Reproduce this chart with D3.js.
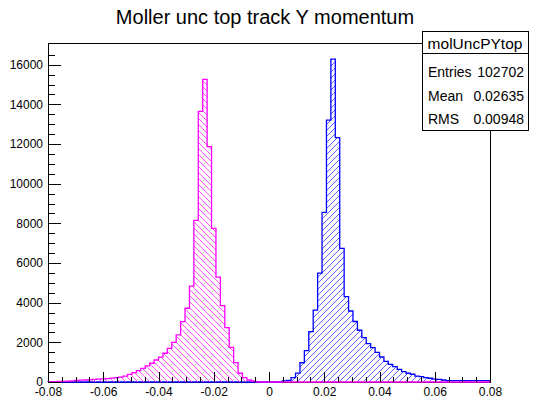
<!DOCTYPE html>
<html><head><meta charset="utf-8">
<script src="https://cdn.jsdelivr.net/npm/d3@7"></script>
<style>
html,body{margin:0;padding:0;background:#fff;}
svg{display:block;font-family:"Liberation Sans",Arial,Helvetica,sans-serif;}
</style></head><body>
<svg id="c" width="538" height="404"></svg>
<script>
// ---------------- data ----------------
const chartTitle = "Moller unc top track Y momentum";
const xMin = -0.08, xMax = 0.08;
const xTickValues = [-0.08, -0.06, -0.04, -0.02, 0, 0.02, 0.04, 0.06, 0.08];
const xTickLabels = ["-0.08", "-0.06", "-0.04", "-0.02", "0", "0.02", "0.04", "0.06", "0.08"];
const yTickValues = [0, 2000, 4000, 6000, 8000, 10000, 12000, 14000, 16000];
const yTickLabels = ["0", "2000", "4000", "6000", "8000", "10000", "12000", "14000", "16000"];
// bin contents, 100 bins of width 0.0016 from -0.08 to 0.08
const magentaCounts = [
  20, 20, 25, 35, 45, 55, 75, 90, 100, 110,
  130, 150, 160, 175, 200, 225, 250, 300, 385, 470,
  575, 690, 810, 945, 1110, 1250, 1450, 1700, 2000, 2380,
  3040, 3720, 4830, 8150, 13650, 15260, 11870, 7750, 5290, 3850,
  2740, 1750, 980, 440, 220, 100, 50, 10, 0, 0,
  0, 0, 0, 0, 0, 0, 0, 0, 0, 0,
  0, 0, 0, 0, 0, 0, 0, 0, 0, 0,
  0, 0, 0, 0, 0, 0, 0, 0, 0, 0,
  0, 0, 0, 0, 0, 0, 0, 0, 0, 0,
  0, 0, 0, 0, 0, 0, 0, 0, 0, 0
];
const blueCounts = [
  0, 0, 0, 0, 0, 0, 0, 0, 0, 0,
  0, 0, 0, 0, 0, 0, 0, 0, 0, 0,
  0, 0, 0, 0, 0, 0, 0, 0, 0, 0,
  0, 0, 0, 0, 0, 0, 0, 0, 0, 0,
  0, 0, 0, 0, 0, 0, 0, 0, 0, 0,
  0, 0, 0, 60, 80, 220, 450, 970, 1580, 2540,
  3620, 5490, 8550, 13200, 16280, 12320, 6740, 4310, 3580, 3050,
  2610, 2240, 1940, 1730, 1490, 1260, 1040, 890, 780, 640,
  520, 440, 390, 300, 270, 220, 190, 150, 135, 100,
  70, 70, 70, 70, 70, 70, 70, 70, 70, 70
];
const statsName = "molUncPYtop";
const statsLabels = ["Entries", "Mean", "RMS"];
const statsValues = ["102702", "0.02635", "0.00948"];

// ---------------- layout ----------------
const L = 48, R = 490, T = 43, B = 382;
const svg = d3.select("#c");
const nBins = magentaCounts.length;
const binW = (xMax - xMin) / nBins;
const yMax = 1.05 * d3.max(blueCounts.concat(magentaCounts));
const x = d3.scaleLinear().domain([xMin, xMax]).range([L, R]);
const y = d3.scaleLinear().domain([0, yMax]).range([B, T]);

// frame
svg.append("rect").attr("x", L).attr("y", T).attr("width", R - L).attr("height", B - T)
  .attr("fill", "#fff").attr("stroke", "#000").attr("stroke-width", 1).attr("shape-rendering", "crispEdges");

function histPath(counts) {
  const p = d3.path();
  p.moveTo(x(xMin), y(0));
  counts.forEach((c, i) => {
    const x0 = x(xMin + i * binW), x1 = x(xMin + (i + 1) * binW);
    p.lineTo(x0, y(c));
    p.lineTo(x1, y(c));
  });
  p.lineTo(x(xMax), y(0));
  return p.toString();
}
const defs = svg.append("defs");
const hists = [
  { id: "cb", counts: blueCounts, color: "#0000ff", hatch: "#5050ff", dir: 1 },
  { id: "cm", counts: magentaCounts, color: "#ff00ff", hatch: "#ff40ff", dir: -1 }
];
const step = 6;
hists.forEach(h => {
  defs.append("clipPath").attr("id", h.id).append("path").attr("d", histPath(h.counts) + "Z");
  const g = svg.append("g").attr("clip-path", `url(#${h.id})`);
  const H = B - T;
  // diagonal hatch lines covering the frame
  const starts = d3.range(L - H - step, R + H + step, step);
  g.selectAll("line").data(starts).join("line")
    .attr("x1", d => d).attr("y1", h.dir > 0 ? B : T)
    .attr("x2", d => d + H).attr("y2", h.dir > 0 ? T : B)
    .attr("stroke", h.hatch).attr("stroke-width", 0.9);
  svg.append("path").attr("d", histPath(h.counts)).attr("fill", "none")
    .attr("stroke", h.color).attr("stroke-width", 1.3);
});

// axes
const xMinor = d3.range(-16, 17).map(k => k * 0.005);
const yMinor = d3.range(0, 34).map(k => k * 500).filter(v => v <= yMax);
const gxm = svg.append("g").attr("transform", `translate(0,${B})`)
  .call(d3.axisBottom(x).tickValues(xMinor).tickSize(-5).tickFormat(""));
const gx = svg.append("g").attr("transform", `translate(0,${B})`)
  .call(d3.axisBottom(x).tickValues(xTickValues).tickSize(-10).tickPadding(5)
    .tickFormat((d, i) => xTickLabels[i]));
const gym = svg.append("g").attr("transform", `translate(${L},0)`)
  .call(d3.axisLeft(y).tickValues(yMinor).tickSize(-6.6).tickFormat(""));
const gy = svg.append("g").attr("transform", `translate(${L},0)`)
  .call(d3.axisLeft(y).tickValues(yTickValues).tickSize(-13).tickPadding(5)
    .tickFormat((d, i) => yTickLabels[i]));
[gxm, gx, gym, gy].forEach(g => {
  g.select(".domain").remove();
  g.selectAll("line").attr("stroke", "#000").attr("shape-rendering", "crispEdges");
  g.selectAll("text").attr("fill", "#000").style("font-size", "12px")
    .style("font-family", '"Liberation Sans",Arial,sans-serif');
});

// title
svg.append("text").attr("x", 265).attr("y", 24).attr("text-anchor", "middle")
  .style("font-size", "20px").attr("fill", "#000").text(chartTitle);

// stats box
const sx = 422, sy = 31, sw = 106, sh = 99, hh = 22;
const sg = svg.append("g");
sg.append("rect").attr("x", sx).attr("y", sy).attr("width", sw).attr("height", sh)
  .attr("fill", "#fff").attr("stroke", "#000").attr("shape-rendering", "crispEdges");
sg.append("line").attr("x1", sx).attr("x2", sx + sw).attr("y1", sy + hh).attr("y2", sy + hh)
  .attr("stroke", "#000").attr("shape-rendering", "crispEdges");
sg.append("text").attr("x", sx + sw / 2).attr("y", sy + hh / 2 + 1).attr("text-anchor", "middle")
  .attr("dominant-baseline", "central").style("font-size", "15.5px").text(statsName);
const rowY = [71.5, 95.5, 118.5];
statsLabels.forEach((lab, i) => {
  sg.append("text").attr("x", sx + 6).attr("y", rowY[i]).attr("dominant-baseline", "central")
    .style("font-size", "14px").text(lab);
  sg.append("text").attr("x", sx + sw - 4).attr("y", rowY[i]).attr("text-anchor", "end")
    .attr("dominant-baseline", "central").style("font-size", "14px").text(statsValues[i]);
});
</script>
</body></html>
